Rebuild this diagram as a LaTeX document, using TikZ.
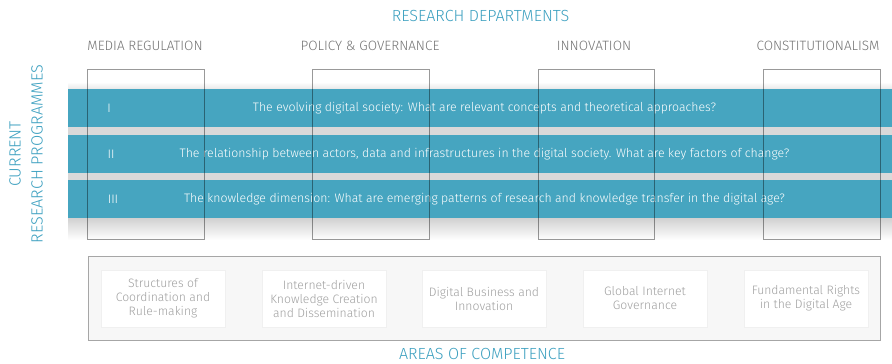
\documentclass[tikz,border=0pt]{standalone}
\usepackage{fontspec}
\setmainfont{Fira Sans Light}
\definecolor{teal1}{RGB}{60,160,192}
\definecolor{barc}{RGB}{70,165,192}
\definecolor{deptgray}{RGB}{115,115,115}
\definecolor{areagray}{RGB}{160,160,160}
\tikzset{
  heading/.style={text=teal1, font=\fontsize{16.1}{18}\selectfont, inner sep=0pt},
  dept/.style={text=deptgray, font=\fontsize{13.5}{15}\selectfont, inner sep=0pt},
  column/.style={draw=black, draw opacity=0.4, line width=0.8pt},
  bar/.style={fill=barc, draw=none},
  bartext/.style={text=white, font=\fontsize{12.3}{14}\selectfont, inner sep=0pt},
  areabox/.style={fill=white, draw=black!6, line width=0.6pt, minimum width=124pt, minimum height=57pt, inner sep=0pt, align=center, text=areagray, font=\fontsize{12.2}{14}\selectfont},
  outerbox/.style={fill=black!3, draw=black!35, line width=0.8pt}
}
\begin{document}
\begin{tikzpicture}[x=1pt,y=-1pt]
\path[use as bounding box] (0,0) rectangle (892,364);
\fill[white] (0,0) rectangle (892,364);

% headings
\node[heading] (rd) at (480.5,16) {RESEARCH DEPARTMENTS};
\node[heading] (ac) at (482,354) {AREAS OF COMPETENCE};
\node[heading, rotate=90, align=center, font=\fontsize{16.2}{22}\selectfont] (crp) at (26,154) {CURRENT\\RESEARCH PROGRAMMES};

% department labels
\node[dept] (d1) at (145,46) {MEDIA REGULATION};
\node[dept] (d2) at (370,46) {POLICY \& GOVERNANCE};
\node[dept] (d3) at (594,46) {INNOVATION};
\node[dept] (d4) at (818,46) {CONSTITUTIONALISM};

% shadows
\shade[top color=white, bottom color=black!9] (68,82) rectangle (892,89);
\fill[black!15] (68,127) rectangle (892,135);
\fill[black!15] (68,173) rectangle (892,180);
\shade[top color=black!18, bottom color=white] (68,218) rectangle (892,240);

% bars
\fill[bar] (68,89) rectangle (892,127);
\fill[bar] (68,135) rectangle (892,173);
\fill[bar] (68,180) rectangle (892,218);

\node[bartext] (n1) at (109,108) {I};
\node[bartext] (n2) at (111,154) {II};
\node[bartext] (n3) at (113,199) {III};
\node[bartext] (t1) at (484.5,108) {The evolving digital society: What are relevant concepts and theoretical approaches?};
\node[bartext] (t2) at (484.5,154) {The relationship between actors, data and infrastructures in the digital society. What are key factors of change?};
\node[bartext] (t3) at (484.5,199) {The knowledge dimension: What are emerging patterns of research and knowledge transfer in the digital age?};

% columns
\draw[column] (87,69) rectangle (204,239);
\draw[column] (312,69) rectangle (429,239);
\draw[column] (538,69) rectangle (654,239);
\draw[column] (763,69) rectangle (880,239);

% areas of competence
\draw[outerbox] (88,256) rectangle (880,340);
\node[areabox] (a1) at (163,298.5) {Structures of\\Coordination and\\Rule-making};
\node[areabox] (a2) at (324,298.5) {Internet-driven\\Knowledge Creation\\and Dissemination};
\node[areabox] (a3) at (484,298.5) {Digital Business and\\Innovation};
\node[areabox] (a4) at (645,298.5) {Global Internet\\Governance};
\node[areabox] (a5) at (806,298.5) {Fundamental Rights\\in the Digital Age};
\end{tikzpicture}
\end{document}
